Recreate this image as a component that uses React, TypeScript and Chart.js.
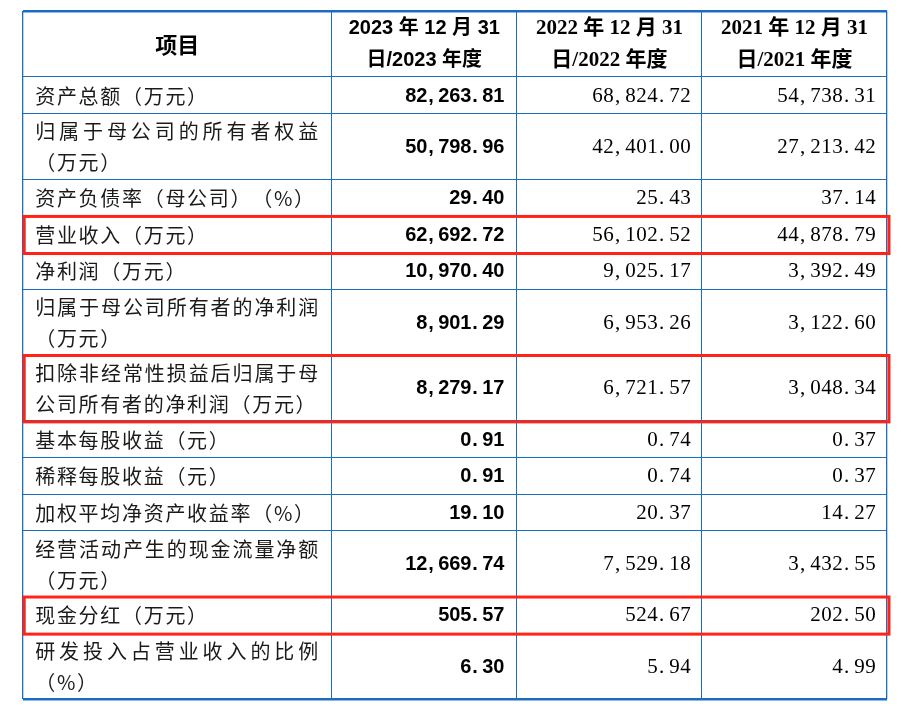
import React, { useEffect, useRef } from "react";
import { Chart, registerables } from "chart.js";

Chart.register(...registerables);

// ---------- data ----------
const itemHeader = "项目";
const periodHeaders: string[][] = [
  ["2023 年 12 月 31", "日/2023 年度"],
  ["2022 年 12 月 31", "日/2022 年度"],
  ["2021 年 12 月 31", "日/2021 年度"],
];
const rowLabels: string[][] = [
  ["资产总额（万元）"],
  ["归属于母公司的所有者权益", "（万元）"],
  ["资产负债率（母公司）（%）"],
  ["营业收入（万元）"],
  ["净利润（万元）"],
  ["归属于母公司所有者的净利润", "（万元）"],
  ["扣除非经常性损益后归属于母", "公司所有者的净利润（万元）"],
  ["基本每股收益（元）"],
  ["稀释每股收益（元）"],
  ["加权平均净资产收益率（%）"],
  ["经营活动产生的现金流量净额", "（万元）"],
  ["现金分红（万元）"],
  ["研发投入占营业收入的比例", "（%）"],
];
const values2023 = [82263.81, 50798.96, 29.4, 62692.72, 10970.4, 8901.29, 8279.17, 0.91, 0.91, 19.1, 12669.74, 505.57, 6.3];
const values2022 = [68824.72, 42401.0, 25.43, 56102.52, 9025.17, 6953.26, 6721.57, 0.74, 0.74, 20.37, 7529.18, 524.67, 5.94];
const values2021 = [54738.31, 27213.42, 37.14, 44878.79, 3392.49, 3122.6, 3048.34, 0.37, 0.37, 14.27, 3432.55, 202.5, 4.99];
const highlightedRows = [3, 6, 11];

// ---------- layout (units on the chart scales) ----------
const colUnits = [1.67, 1, 1, 1];
const singleRowUnit = 1;
const doubleRowUnit = 1.8;

const rowUnits = [doubleRowUnit, ...rowLabels.map((l) => (l.length > 1 ? doubleRowUnit : singleRowUnit))];
const cumulative = (arr: number[]) => {
  const out = [0];
  arr.forEach((v) => out.push(+(out[out.length - 1] + v).toFixed(4)));
  return out;
};
const colBounds = cumulative(colUnits);
const rowBounds = cumulative(rowUnits);
const totalCols = colBounds[colBounds.length - 1];
const totalRows = rowBounds[rowBounds.length - 1];

const BLUE = "#1a6dbf";
const RED = "#ff2318";

const fmt = (n: number) =>
  n.toLocaleString("en-US", { minimumFractionDigits: 2, maximumFractionDigits: 2 });

function drawSpaced(ctx: CanvasRenderingContext2D, text: string, x: number, y: number, extra: number) {
  let cx = x;
  for (const ch of Array.from(text)) {
    ctx.fillText(ch, cx, y);
    cx += ctx.measureText(ch).width + extra;
  }
}

function drawCellNumber(ctx: CanvasRenderingContext2D, text: string, right: number, y: number, cell: number) {
  const chars = Array.from(text);
  const start = right - chars.length * cell;
  chars.forEach((ch, i) => {
    const cx = start + i * cell;
    if (ch === "," || ch === ".") {
      ctx.textAlign = "left";
      ctx.fillText(ch, cx + 1, y);
    } else {
      ctx.textAlign = "center";
      ctx.fillText(ch, cx + cell / 2, y);
    }
  });
}

const tablePlugin = {
  id: "tableCells",
  afterDraw(chart: any) {
    const ctx: CanvasRenderingContext2D = chart.ctx;
    const xs = chart.scales.x;
    const ys = chart.scales.y;
    const X = (v: number) => xs.getPixelForValue(v);
    const Y = (v: number) => ys.getPixelForValue(v);
    ctx.save();
    ctx.textBaseline = "middle";
    ctx.fillStyle = "#000";

    // header
    const hy0 = Y(rowBounds[0]);
    const hy1 = Y(rowBounds[1]);
    const hc = (hy0 + hy1) / 2;
    ctx.textAlign = "center";
    ctx.font = 'bold 22px "Noto Sans CJK SC"';
    ctx.fillText(itemHeader, (X(colBounds[0]) + X(colBounds[1])) / 2, hc + 1);
    periodHeaders.forEach((lines, i) => {
      const cx = (X(colBounds[i + 1]) + X(colBounds[i + 2])) / 2;
      ctx.font =
        i === 0
          ? 'bold 20px "Liberation Sans", "Noto Sans CJK SC"'
          : 'bold 21px "Liberation Serif", "Noto Sans CJK SC"';
      ctx.textAlign = "center";
      ctx.fillText(lines[0], cx, hc - 15);
      ctx.fillText(lines[1], cx, hc + 17);
    });

    // body rows
    const labelLeft = X(colBounds[0]) + 12.5;
    const labelRight = X(colBounds[1]) - 13.5;
    rowLabels.forEach((lines, r) => {
      const y0 = Y(rowBounds[r + 1]);
      const y1 = Y(rowBounds[r + 2]);
      const yc = (y0 + y1) / 2;
      ctx.textAlign = "left";
      ctx.font = '20px "Noto Sans CJK SC"';
      ctx.fillStyle = "#1a1a1a";
      if (lines.length === 1) {
        drawSpaced(ctx, lines[0], labelLeft, yc + 1, 1.7);
      } else {
        const chars = Array.from(lines[0]);
        const sum = chars.reduce((s, ch) => s + ctx.measureText(ch).width, 0);
        const extra = (labelRight - labelLeft - sum) / (chars.length - 1);
        drawSpaced(ctx, lines[0], labelLeft, yc - 14.5, extra);
        drawSpaced(ctx, lines[1], labelLeft, yc + 16.5, 1.7);
      }
      ctx.fillStyle = "#000";
      ctx.font = 'bold 20px "Liberation Sans"';
      drawCellNumber(ctx, fmt(values2023[r]), X(colBounds[2]) - 12.5, yc + 1, 11);
      ctx.font = '21px "Liberation Serif"';
      drawCellNumber(ctx, fmt(values2022[r]), X(colBounds[3]) - 11, yc + 1, 11);
      drawCellNumber(ctx, fmt(values2021[r]), X(colBounds[4]) - 11, yc + 1, 11);
    });

    // highlight boxes
    ctx.strokeStyle = RED;
    ctx.lineWidth = 3;
    highlightedRows.forEach((r) => {
      const x0 = X(colBounds[0]) + 1.5;
      const x1 = X(colBounds[colBounds.length - 1]) + 2;
      const y0 = Y(rowBounds[r + 1]) + 0.5;
      const y1 = Y(rowBounds[r + 2]) + 1;
      ctx.strokeRect(x0, y0, x1 - x0, y1 - y0);
    });
    ctx.restore();
  },
};

export default function App() {
  const canvasRef = useRef<HTMLCanvasElement>(null);

  useEffect(() => {
    if (!canvasRef.current) return;
    const chart = new Chart(canvasRef.current, {
      type: "scatter",
      data: { datasets: [] },
      options: {
        responsive: false,
        maintainAspectRatio: false,
        devicePixelRatio: 1,
        animation: false,
        events: [],
        layout: { padding: { left: 22.7, right: 19, top: 11, bottom: 12 } },
        plugins: { legend: { display: false }, tooltip: { enabled: false } },
        scales: {
          x: {
            type: "linear",
            min: 0,
            max: totalCols,
            afterBuildTicks: (axis: any) => {
              axis.ticks = colBounds.map((v) => ({ value: v }));
            },
            ticks: { display: false },
            border: { display: false },
            grid: {
              color: BLUE,
              drawTicks: false,
              lineWidth: (c: any) =>
                c.tick && (c.tick.value === 0 || c.tick.value === totalCols) ? 1.3 : 1,
            },
          },
          y: {
            type: "linear",
            reverse: true,
            min: 0,
            max: totalRows,
            afterBuildTicks: (axis: any) => {
              axis.ticks = rowBounds.map((v) => ({ value: v }));
            },
            ticks: { display: false },
            border: { display: false },
            grid: {
              color: BLUE,
              drawTicks: false,
              lineWidth: (c: any) =>
                c.tick && (c.tick.value === 0 || c.tick.value === totalRows) ? 2.5 : 1,
            },
          },
        },
      } as any,
      plugins: [tablePlugin],
    });
    return () => chart.destroy();
  }, []);

  return (
    <div style={{ position: "absolute", left: 0, top: 0, width: 906, height: 711, background: "#fff" }}>
      <canvas ref={canvasRef} width={906} height={711} style={{ display: "block" }} />
    </div>
  );
}
